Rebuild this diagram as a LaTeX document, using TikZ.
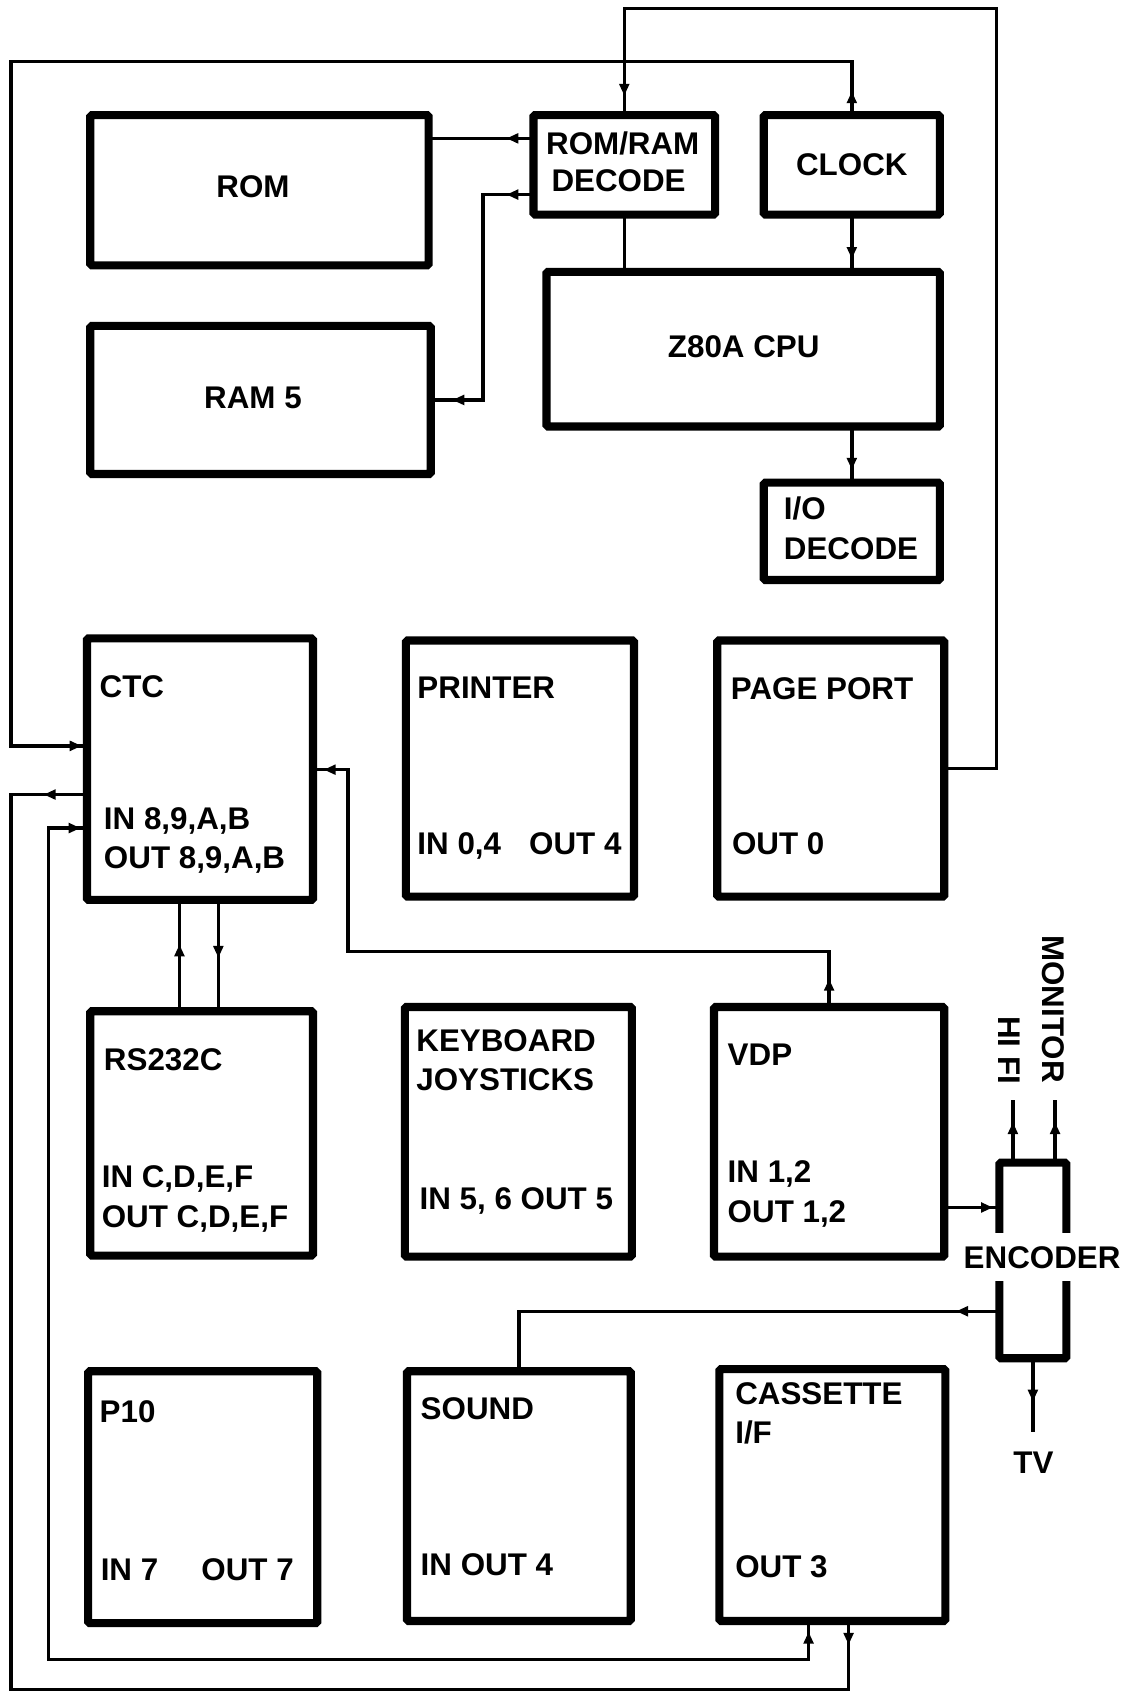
\documentclass[tikz,border=0pt]{standalone}
\usepackage{fontspec}
\setmainfont{Liberation Sans}
\usetikzlibrary{arrows.meta,decorations.markings}
\newcommand\blk[5]{\node[blk,minimum width={#4-#2-7},minimum height={#5-#3-7}] (#1) at ({(#2+#4)/2},{(#3+#5)/2}) {};}
\tikzset{
  blk/.style={draw,line width=7.5pt,rounded corners=1.5pt,inner sep=0pt,outer sep=0pt},
  wire/.style={line width=3.2pt},
  tp/.tip={Triangle[length=11pt,width=9pt]},
  tipat/.style={postaction={decorate,decoration={markings,mark=at position #1 with {\arrow{tp}}}}},
  rtipat/.style={postaction={decorate,decoration={markings,mark=at position #1 with {\arrowreversed{tp}}}}},
  txt/.style={inner sep=0pt,font=\fontsize{29}{34}\selectfont\bfseries},
}
\begin{document}
\begin{tikzpicture}[x=1pt,y=-1pt]
\useasboundingbox (0,0) rectangle (1043,1568);
% blocks
\blk{rom}{80}{103}{400}{249}
\blk{dec}{490}{103}{665}{202}
\blk{clk}{703}{103}{873}{202}
\blk{ram}{80}{298}{402}{442}
\blk{cpu}{502}{248}{873}{398}
\blk{io}{703}{443}{873}{540}
\blk{ctc}{77}{587}{293}{836}
\blk{prn}{372}{589}{590}{833}
\blk{pp}{660}{589}{877}{833}
\blk{rs}{80}{932}{293}{1165}
\blk{kbd}{371}{928}{588}{1166}
\blk{vdp}{657}{928}{877}{1166}
\blk{enc}{921}{1072}{990}{1260}
\blk{pten}{78}{1265}{297}{1505}
\blk{snd}{373}{1265}{587}{1503}
\blk{cas}{662}{1263}{878}{1503}
% texts
\node[txt,anchor=base] (trom) at (234,182.5) {ROM};
\node[txt,anchor=base west] (tdec1) at (505,142.5) {ROM/RAM};
\node[txt,anchor=base west] (tdec2) at (510,177.5) {DECODE};
\node[txt,anchor=base] (tclk) at (788,162.5) {CLOCK};
\node[txt,anchor=base] (tram) at (234,377.5) {RAM 5};
\node[txt,anchor=base] (tcpu) at (688,330.5) {Z80A CPU};
\node[txt,anchor=base west] (tio1) at (725,480.5) {I/O};
\node[txt,anchor=base west] (tio2) at (725,517.5) {DECODE};
\node[txt,anchor=base west] (tctc1) at (92,645.5) {CTC};
\node[txt,anchor=base west] (tctc2) at (96,767.5) {IN 8,9,A,B};
\node[txt,anchor=base west] (tctc3) at (96,803.5) {OUT 8,9,A,B};
\node[txt,anchor=base west] (tprn1) at (386,646.5) {PRINTER};
\node[txt,anchor=base west] (tprn2) at (386,790.5) {IN 0,4\hspace*{26pt}OUT 4};
\node[txt,anchor=base west] (tpp1) at (676,647.5) {PAGE PORT};
\node[txt,anchor=base west] (tpp2) at (677,790.5) {OUT 0};
\node[txt,anchor=base west] (trs1) at (96,990.5) {RS232C};
\node[txt,anchor=base west] (trs2) at (94,1098.5) {IN C,D,E,F};
\node[txt,anchor=base west] (trs3) at (94,1135.5) {OUT C,D,E,F};
\node[txt,anchor=base west] (tkbd1) at (385,972.5) {KEYBOARD};
\node[txt,anchor=base west] (tkbd2) at (385,1008.5) {JOYSTICKS};
\node[txt,anchor=base west] (tkbd3) at (388,1118.5) {IN 5, 6 OUT 5};
\node[txt,anchor=base west] (tvdp1) at (673,985.5) {VDP};
\node[txt,anchor=base west] (tvdp2) at (673,1093.5) {IN 1,2};
\node[txt,anchor=base west] (tvdp3) at (673,1130.5) {OUT 1,2};
\node[txt,anchor=base west] (tp1) at (92,1315.5) {P10};
\node[txt,anchor=base west] (tp2) at (93,1462.5) {IN 7\hspace*{40pt}OUT 7};
\node[txt,anchor=base west] (tsnd1) at (389,1313.5) {SOUND};
\node[txt,anchor=base west] (tsnd2) at (389,1457.5) {IN OUT 4};
\node[txt,anchor=base west] (tcas1) at (680,1299.5) {CASSETTE};
\node[txt,anchor=base west] (tcas2) at (680,1335.5) {I/F};
\node[txt,anchor=base west] (tcas3) at (680,1459.5) {OUT 3};
\node[txt,fill=white,inner xsep=1pt,inner ysep=12pt] (tenc) at (964,1163) {ENCODER};
\node[txt,anchor=base west,rotate=-90] (thifi) at (923.5,940) {HI FI};
\node[txt,anchor=base west,rotate=-90] (tmon) at (964.5,865) {MONITOR};
\node[txt,anchor=base] (ttv) at (956,1363.5) {TV};
\coordinate (hf) at (937,1018);
\coordinate (mon) at (976,1018);
\coordinate (tv) at (956,1325);
% connectors
\draw[wire,tipat=-18pt] (pp.east) -- (922,711) -- (922,8) -- (dec.north |- 0,8) -- (dec.north);
\draw[wire,tipat=22pt,tipat=-5pt] (clk.north) -- (clk.north |- 0,57) -- (10,57) -- (10,690) -- (ctc.west |- 0,690);
\draw[wire,tipat=25pt] (dec.west |- 0,128) -- (rom.east |- 0,128);
\draw[wire,tipat=25pt,tipat=-20pt] (dec.west |- 0,180) -- (447,180) -- (447,370) -- (ram.east |- 0,370);
\draw[wire] (dec.south) -- (dec.south |- cpu.north);
\draw[wire,tipat=-12pt] (clk.south) -- (clk.south |- cpu.north);
\draw[wire,tipat=-12pt] (io.north |- cpu.south) -- (io.north);
\draw[wire,tipat=26pt,tipat=-10pt] (vdp.north) -- (vdp.north |- 0,880) -- (322,880) -- (322,712) -- (ctc.east |- 0,712);
\draw[wire,tipat=0.6] (rs.north -| 166,0) -- (ctc.south -| 166,0);
\draw[wire,tipat=0.52] (ctc.south -| 202,0) -- (rs.north -| 202,0);
\draw[wire,tipat=-6pt] (vdp.east |- 0,1117) -- (enc.west |- 0,1117);
\draw[wire,tipat=0.65] (enc.north -| hf) -- (hf);
\draw[wire,tipat=0.65] (enc.north -| mon) -- (mon);
\draw[wire,tipat=40pt] (enc.west |- 0,1213) -- (snd.north |- 0,1213) -- (snd.north);
\draw[wire,tipat=40pt] (enc.south) -- (enc.south |- tv);
\draw[wire,tipat=22pt,rtipat=-40pt] (cas.south -| 785,0) -- (785,1563) -- (10,1563) -- (10,735) -- (ctc.west |- 0,735);
\draw[wire,rtipat=6pt,tipat=-10pt] (ctc.west |- 0,766) -- (45,766) -- (45,1535) -- (748,1535) -- (cas.south -| 748,0);
\end{tikzpicture}
\end{document}
